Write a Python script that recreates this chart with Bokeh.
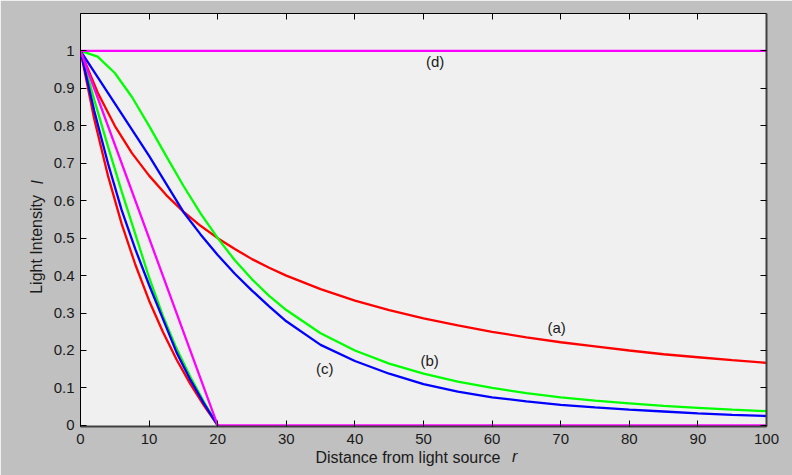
from bokeh.plotting import figure
from bokeh.models import Range1d, LinearAxis, FixedTicker, Label
from bokeh.embed import file_html
from bokeh.resources import INLINE

# ---- data ----
r_far = [0, 2.5, 5, 7.5, 10, 12.5, 15, 17.5, 20, 22.5, 25, 27.5, 30, 35, 40, 45,
         50, 55, 60, 65, 70, 75, 80, 85, 90, 95, 100]
red_far = [1.0, 0.889, 0.8, 0.727, 0.667, 0.615, 0.571, 0.533, 0.5, 0.471, 0.444,
           0.421, 0.4, 0.364, 0.333, 0.308, 0.286, 0.267, 0.25, 0.235, 0.222, 0.211,
           0.2, 0.19, 0.182, 0.174, 0.167]
green_far = [1.0, 0.985, 0.941, 0.877, 0.8, 0.719, 0.64, 0.566, 0.5, 0.441, 0.39,
             0.346, 0.308, 0.246, 0.2, 0.165, 0.138, 0.117, 0.1, 0.086, 0.075, 0.066,
             0.059, 0.052, 0.047, 0.042, 0.038]
blue_far = [1.0, 0.93, 0.86, 0.79, 0.72, 0.645, 0.57, 0.51, 0.455, 0.405, 0.36,
            0.318, 0.278, 0.215, 0.172, 0.138, 0.11, 0.09, 0.075, 0.064, 0.055, 0.048,
            0.042, 0.037, 0.032, 0.028, 0.025]

r_near = [0, 2, 4, 6, 8, 10, 12, 14, 16, 18, 20]
red_near = [1.0, 0.818, 0.667, 0.538, 0.429, 0.333, 0.25, 0.176, 0.111, 0.053, 0.0]
blue_near = [1.0, 0.84, 0.70, 0.575, 0.47, 0.375, 0.285, 0.195, 0.122, 0.058, 0.0]
green_near = [1.0, 0.87, 0.745, 0.625, 0.51, 0.395, 0.293, 0.205, 0.13, 0.062, 0.0]

r_linear = [0, 20, 100]
mag_linear = [1.0, 0.0, 0.0]
r_const = [0, 100]
mag_const = [1.0, 1.0]

x_ticks = [0, 10, 20, 30, 40, 50, 60, 70, 80, 90, 100]
y_ticks = [0, 0.1, 0.2, 0.3, 0.4, 0.5, 0.6, 0.7, 0.8, 0.9, 1]
y_tick_labels = ["0", "0.1", "0.2", "0.3", "0.4", "0.5", "0.6", "0.7", "0.8", "0.9", "1"]

curve_labels = ["(a)", "(b)", "(c)", "(d)"]
curve_label_x = [69.4, 50.9, 35.6, 51.7]
curve_label_y = [0.261, 0.173, 0.152, 0.971]

x_title = "Distance from light source"
x_title_var = "r"
y_title = "Light Intensity"
y_title_var = "I"

FONT = "Liberation Sans"
NB = "\u00a0"
TEXT_COLOR = "#1a1a1a"

p = figure(width=792, height=475, output_backend="svg", toolbar_location=None,
           x_range=Range1d(0, 100), y_range=Range1d(-0.003, 1.1),
           min_border_left=80, min_border_right=26, min_border_top=13,
           min_border_bottom=49,
           background_fill_color="#f0f0f0", border_fill_color="#c0c0c0",
           outline_line_color=None)
p.grid.visible = False


def style_axis(ax, show_labels, color, width):
    ax.major_tick_in = 6
    ax.major_tick_out = 0
    ax.minor_tick_line_color = None
    ax.axis_line_color = color
    ax.axis_line_width = width
    ax.major_tick_line_color = "#000000"
    ax.major_label_text_font = FONT
    if show_labels:
        ax.major_label_text_color = TEXT_COLOR
        ax.major_label_text_font_size = "15px"
    else:
        ax.major_label_text_color = None
        ax.major_label_text_font_size = "1px"
        ax.major_label_standoff = 0


def title_axis(ax, text, italic, standoff):
    ax.ticker = FixedTicker(ticks=[])
    ax.axis_line_color = None
    ax.major_tick_line_color = None
    ax.minor_tick_line_color = None
    ax.major_tick_out = 0
    ax.major_tick_in = 0
    ax.major_label_text_color = None
    ax.major_label_text_font_size = "1px"
    ax.major_label_standoff = 0
    ax.axis_label = text
    ax.axis_label_text_font = FONT
    ax.axis_label_text_font_size = "16px"
    ax.axis_label_text_font_style = "italic" if italic else "normal"
    ax.axis_label_text_color = TEXT_COLOR
    ax.axis_label_standoff = standoff


xa = p.xaxis[0]
xa.ticker = FixedTicker(ticks=x_ticks)
style_axis(xa, True, "#404040", 2)
xa.major_label_standoff = 7
xa.axis_label = x_title + NB * 7
xa.axis_label_text_font = FONT
xa.axis_label_text_font_size = "16px"
xa.axis_label_text_font_style = "normal"
xa.axis_label_text_color = TEXT_COLOR
xa.axis_label_standoff = 2

ya = p.yaxis[0]
ya.ticker = FixedTicker(ticks=y_ticks)
ya.major_label_overrides = dict(zip(y_ticks, y_tick_labels))
style_axis(ya, True, "#000000", 1)
ya.major_label_standoff = 6
ya.axis_label = y_title + NB * 11
ya.axis_label_text_font = FONT
ya.axis_label_text_font_size = "16px"
ya.axis_label_text_font_style = "normal"
ya.axis_label_text_color = TEXT_COLOR
ya.axis_label_standoff = 6

top = LinearAxis(ticker=FixedTicker(ticks=x_ticks))
style_axis(top, False, "#000000", 1)
p.add_layout(top, "above")

right = LinearAxis(ticker=FixedTicker(ticks=y_ticks))
style_axis(right, False, "#404040", 2)
p.add_layout(right, "right")

# italic variable names, placed on the same line as the axis titles
xr = LinearAxis()
title_axis(xr, NB * 41 + x_title_var, True, -21)
p.add_layout(xr, "below")

yi = LinearAxis()
title_axis(yi, NB * 17 + y_title_var, True, -21)
p.add_layout(yi, "left")

LW = 2.3
p.line(r_far, red_far, line_color="#ff0000", line_width=LW)
p.line(r_far, green_far, line_color="#00ff00", line_width=LW)
p.line(r_far, blue_far, line_color="#0000ff", line_width=LW)
p.line(r_near, red_near, line_color="#ff0000", line_width=LW)
p.line(r_near, green_near, line_color="#00ff00", line_width=LW)
p.line(r_near, blue_near, line_color="#0000ff", line_width=LW)
p.line(r_linear, mag_linear, line_color="#ff00ff", line_width=LW)
p.line(r_const, mag_const, line_color="#ff00ff", line_width=LW)

for t, lx, ly in zip(curve_labels, curve_label_x, curve_label_y):
    p.add_layout(Label(x=lx, y=ly, text=t, text_align="center",
                       text_baseline="middle", text_font=FONT,
                       text_font_size="15px", text_color=TEXT_COLOR))

open("out.html", "w").write(file_html(p, INLINE))
